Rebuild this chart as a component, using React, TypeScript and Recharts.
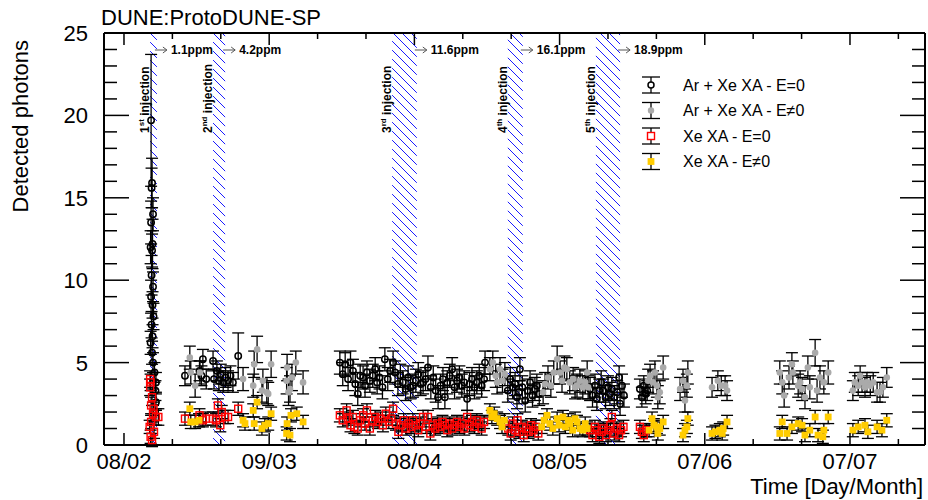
import React from 'react';
import { ScatterChart, Scatter, XAxis, YAxis, ErrorBar, ReferenceArea, Label } from 'recharts';

const FONT = "'Liberation Sans', Arial, Helvetica, sans-serif";

// x = days since 08/02, y = detected photons, e = error
const arXeField0: number[][] = [
  [5.6, 19.7, 4.0], [5.8, 15.9, 1.5], [5.7, 15.6, 1.2], [6.0, 14.0, 1.0], [5.6, 13.5, 1.3], [5.9, 12.2, 1.5],
  [5.5, 12.0, 1.0], [5.8, 11.8, 1.0], [5.7, 10.3, 1.2], [6.0, 9.6, 0.9], [5.6, 9.0, 1.0], [5.9, 8.5, 0.8],
  [6.1, 7.8, 0.8], [5.7, 7.3, 0.8], [5.9, 6.6, 0.7], [5.5, 6.2, 0.7], [5.8, 5.6, 0.7], [6.0, 5.0, 0.6],
  [6.3, 4.4, 0.6], [6.6, 3.8, 0.6], [6.5, 3.3, 0.6], [6.6, 2.6, 0.5],
  [12.6, 4.2, 0.6], [15.6, 4.5, 0.6], [16.3, 5.2, 0.6], [16.0, 4.2, 0.6], [17.0, 4.0, 0.6],
  [18.4, 5.1, 0.6], [18.6, 4.0, 0.6], [19.2, 4.5, 0.6], [19.6, 3.9, 0.6], [20.0, 4.3, 0.6], [20.5, 3.8, 0.6],
  [21.0, 4.1, 0.6], [21.5, 3.9, 0.6], [22.0, 4.2, 0.6], [22.5, 3.8, 0.6], [23.6, 5.4, 1.4],
  [44.6, 5.0, 0.7], [45.2, 4.3, 0.7], [45.7, 4.9, 0.7], [46.3, 4.0, 0.7], [46.8, 5.0, 0.7], [47.3, 4.5, 0.7],
  [47.8, 3.7, 0.7], [48.3, 3.1, 0.7], [48.8, 4.2, 0.7], [49.4, 4.1, 0.7], [49.8, 3.6, 0.7], [50.2, 4.4, 0.7],
  [50.8, 3.9, 0.7], [51.4, 4.2, 0.7], [51.9, 4.6, 0.7], [52.3, 3.8, 0.7], [52.8, 4.1, 0.7], [53.4, 3.5, 0.7],
  [53.9, 5.2, 0.7], [54.5, 4.0, 0.7], [55.0, 4.5, 0.7], [55.6, 5.0, 0.7], [56.0, 4.4, 0.7], [56.6, 3.7, 0.7],
  [57.1, 4.2, 0.7], [57.6, 3.8, 0.7], [58.2, 3.4, 0.7], [58.7, 4.1, 0.7], [59.2, 3.5, 0.7], [59.7, 3.6, 0.7],
  [60.3, 3.9, 0.7], [60.8, 4.3, 0.7], [61.3, 3.7, 0.7], [61.8, 3.8, 0.7], [62.3, 4.0, 0.7], [62.8, 4.7, 0.7],
  [63.4, 3.5, 0.7], [63.9, 4.1, 0.7], [64.4, 3.3, 0.7], [64.9, 2.9, 0.7], [65.4, 3.6, 0.7], [65.9, 4.0, 0.7],
  [66.3, 2.9, 0.7], [66.8, 3.8, 0.7], [67.3, 4.2, 0.7], [67.8, 4.6, 0.7], [68.3, 3.5, 0.7], [68.8, 3.9, 0.7],
  [69.3, 4.1, 0.7], [69.8, 3.6, 0.7], [70.3, 3.8, 0.7], [70.9, 2.8, 0.7], [71.4, 3.7, 0.7], [71.9, 4.0, 0.7],
  [72.4, 3.5, 0.7], [72.9, 3.8, 0.7], [73.4, 4.2, 0.7], [73.9, 3.6, 0.7], [74.4, 4.0, 0.7], [74.6, 5.0, 0.7],
  [79.3, 3.3, 0.7], [79.8, 4.0, 0.7], [80.3, 3.5, 0.7], [80.8, 3.7, 0.7], [81.2, 2.9, 0.7], [81.6, 3.2, 0.7],
  [81.8, 4.6, 0.7], [82.3, 3.5, 0.7], [82.9, 2.7, 0.7], [83.4, 3.3, 0.7], [83.9, 3.8, 0.7], [84.4, 3.0, 0.7],
  [84.9, 3.4, 0.7], [85.3, 3.6, 0.7], [85.8, 3.1, 0.7],
  [96.3, 3.4, 0.7], [96.8, 3.0, 0.7], [97.3, 3.6, 0.7], [97.7, 2.8, 0.7], [98.2, 3.3, 0.7], [98.6, 3.8, 0.7],
  [99.0, 3.3, 0.7], [99.5, 2.9, 0.7], [100.0, 3.5, 0.7], [100.4, 3.1, 0.7], [100.8, 3.4, 0.7], [101.3, 2.9, 0.7],
  [101.9, 3.2, 0.7], [102.3, 4.1, 0.7], [102.5, 2.5, 0.7], [102.9, 3.6, 0.7], [103.3, 3.0, 0.7],
  [106.6, 3.4, 0.6], [107.0, 2.9, 0.6], [107.4, 3.6, 0.6], [107.8, 3.1, 0.6], [108.1, 3.3, 0.6],
];

const arXeFieldOn: number[][] = [
  [13.6, 5.3, 0.7], [13.8, 4.4, 0.7], [14.7, 3.6, 0.7], [15.7, 4.4, 0.7],
  [24.6, 4.0, 0.7], [26.7, 3.6, 0.7], [26.9, 4.9, 0.8], [27.5, 5.8, 0.8], [28.5, 3.3, 0.7], [28.7, 3.9, 0.7],
  [29.5, 3.2, 0.7], [29.8, 3.1, 0.7], [30.4, 4.9, 0.8],
  [33.7, 4.7, 0.8], [33.6, 3.9, 0.8], [34.3, 3.4, 0.8], [34.0, 3.2, 0.8], [34.7, 4.1, 0.8], [35.5, 5.0, 0.7], [37.0, 3.8, 0.7],
  [75.6, 4.6, 0.7], [76.2, 5.0, 0.7], [76.8, 4.2, 0.7], [77.1, 3.8, 0.7], [77.7, 4.6, 0.7], [78.2, 3.9, 0.7], [78.7, 4.3, 0.7],
  [86.6, 3.2, 0.7], [87.0, 3.7, 0.7], [87.6, 4.1, 0.7], [88.2, 3.6, 0.7], [88.8, 4.4, 0.7], [89.5, 5.2, 0.8],
  [90.1, 4.4, 0.7], [90.5, 3.9, 0.7], [91.0, 4.7, 0.7], [91.5, 4.6, 0.7], [92.1, 3.8, 0.7], [92.8, 4.0, 0.7],
  [93.2, 3.5, 0.7], [93.6, 3.6, 0.7], [94.2, 3.9, 0.7], [94.8, 3.5, 0.7], [95.3, 3.8, 0.7], [95.7, 4.4, 0.7], [95.9, 3.5, 0.7],
  [108.3, 3.9, 0.7], [108.7, 4.2, 0.7], [109.3, 3.8, 0.7], [109.7, 4.4, 0.7], [110.1, 3.6, 0.7], [110.3, 2.9, 0.7],
  [110.7, 3.2, 0.7], [111.4, 4.7, 0.7],
  [114.9, 3.4, 0.7], [115.5, 3.9, 0.7], [115.9, 2.7, 0.7], [116.3, 3.6, 0.7], [116.5, 4.4, 0.7],
  [121.5, 3.5, 0.6], [122.7, 3.9, 0.6], [123.4, 3.6, 0.6], [124.2, 3.6, 0.6], [124.6, 3.3, 0.6],
  [135.5, 4.4, 0.7], [136.0, 3.8, 0.7], [136.4, 3.0, 0.7], [137.4, 4.1, 0.7], [138.0, 4.9, 0.7], [138.2, 4.4, 0.7],
  [139.3, 3.6, 0.7], [139.7, 3.8, 0.7], [140.1, 3.4, 0.7], [140.7, 2.9, 0.7], [141.3, 4.7, 0.7], [141.7, 3.5, 0.7],
  [142.8, 5.6, 0.8], [143.2, 3.3, 0.7], [143.8, 4.1, 0.7], [144.6, 3.8, 0.7], [145.5, 4.4, 0.7],
  [150.6, 3.3, 0.6], [151.0, 3.8, 0.6], [151.7, 3.6, 0.6], [152.1, 4.2, 0.6], [152.5, 3.8, 0.6], [153.1, 3.5, 0.6],
  [153.5, 3.8, 0.6], [154.2, 3.6, 0.6], [154.8, 3.8, 0.6], [155.6, 3.2, 0.6], [156.2, 3.2, 0.6], [156.8, 3.5, 0.6],
  [157.6, 4.1, 0.6],
];

const xeField0: number[][] = [
  [5.5, 3.8, 0.5], [5.4, 3.5, 0.5], [5.4, 4.0, 0.5], [5.8, 2.9, 0.5], [5.6, 2.4, 0.5], [6.1, 2.2, 0.4], [6.0, 1.9, 0.5],
  [6.6, 1.7, 0.5], [7.1, 1.7, 0.5], [5.6, 1.4, 0.4], [5.3, 1.1, 0.4], [6.2, 0.8, 0.4], [5.5, 0.5, 0.4], [5.8, 0.3, 0.4],
  [12.6, 1.6, 0.4], [15.6, 1.8, 0.4], [16.3, 1.5, 0.4], [16.9, 1.6, 0.4],
  [18.4, 1.6, 0.4], [19.0, 1.5, 0.4], [19.4, 2.4, 0.4], [20.2, 2.0, 0.4], [19.9, 1.2, 0.4], [20.9, 1.7, 0.4],
  [21.5, 1.7, 0.4], [23.6, 2.2, 0.4],
  [44.6, 1.8, 0.4], [45.2, 1.5, 0.4], [46.0, 2.1, 0.4], [46.3, 1.6, 0.4], [46.8, 1.2, 0.4], [47.3, 1.7, 0.4],
  [47.6, 1.1, 0.4], [48.3, 1.0, 0.4], [48.8, 1.5, 0.4], [49.4, 1.8, 0.4], [49.8, 1.3, 0.4], [50.2, 2.1, 0.4],
  [50.8, 1.0, 0.4], [51.4, 1.5, 0.4], [51.9, 1.7, 0.4], [52.5, 1.4, 0.4], [53.0, 1.6, 0.4], [53.5, 1.2, 0.4],
  [54.1, 1.9, 0.4], [54.7, 1.4, 0.4], [55.2, 1.6, 0.4], [55.6, 2.2, 0.4], [56.2, 1.3, 0.4], [56.7, 0.8, 0.4],
  [57.2, 1.2, 0.4], [57.8, 1.5, 0.4], [58.3, 1.0, 0.4], [58.8, 1.3, 0.4], [59.3, 1.1, 0.4], [59.7, 1.5, 0.4],
  [60.3, 1.2, 0.4], [60.8, 0.9, 0.4], [61.3, 1.3, 0.4], [61.8, 1.7, 0.4], [62.4, 1.1, 0.4], [62.8, 1.7, 0.4],
  [63.3, 0.7, 0.4], [63.8, 1.2, 0.4], [64.3, 1.0, 0.4], [64.8, 1.3, 0.4], [65.3, 1.1, 0.4], [65.8, 1.4, 0.4],
  [66.3, 1.2, 0.4], [66.8, 0.9, 0.4], [67.3, 1.3, 0.4], [67.8, 1.0, 0.4], [68.3, 1.2, 0.4], [68.8, 1.4, 0.4],
  [69.3, 1.1, 0.4], [69.8, 1.3, 0.4], [70.3, 1.0, 0.4], [70.9, 1.7, 0.4], [71.4, 1.2, 0.4], [71.9, 1.4, 0.4],
  [72.4, 1.1, 0.4], [72.9, 1.5, 0.4], [73.4, 1.3, 0.4], [73.9, 1.0, 0.4], [74.4, 1.4, 0.4],
  [79.4, 1.0, 0.4], [79.9, 0.7, 0.4], [80.3, 1.3, 0.4], [80.8, 0.9, 0.4], [81.3, 1.5, 0.4], [81.7, 0.8, 0.4],
  [82.2, 1.1, 0.4], [82.6, 0.6, 0.4], [83.1, 1.0, 0.4], [83.6, 0.8, 0.4], [84.1, 1.2, 0.4], [84.6, 0.9, 0.4],
  [85.1, 1.1, 0.4], [85.6, 0.7, 0.4],
  [96.3, 0.9, 0.4], [96.8, 0.6, 0.4], [97.3, 1.1, 0.4], [97.7, 0.9, 0.4], [98.2, 0.5, 0.4], [98.7, 0.8, 0.4],
  [99.1, 1.0, 0.4], [99.6, 0.6, 0.4], [100.1, 0.9, 0.4], [100.5, 1.2, 0.4], [100.8, 1.7, 0.4], [101.3, 0.7, 0.4],
  [101.8, 1.0, 0.4], [102.3, 0.6, 0.4], [102.7, 0.9, 0.4], [103.2, 1.1, 0.4],
  [106.6, 1.1, 0.4], [107.0, 0.8, 0.4], [107.4, 0.6, 0.4], [107.9, 0.9, 0.4],
];

const xeFieldOn: number[][] = [
  [13.6, 2.2, 0.4], [13.8, 1.4, 0.4], [14.7, 1.4, 0.4], [15.5, 1.5, 0.4],
  [24.6, 1.5, 0.4], [25.0, 1.3, 0.4], [26.7, 2.1, 0.4], [27.5, 2.6, 0.4], [26.9, 1.3, 0.4], [28.5, 1.0, 0.4],
  [29.1, 1.2, 0.4], [29.8, 1.3, 0.4], [30.4, 1.9, 0.4],
  [33.7, 1.3, 0.4], [33.6, 0.7, 0.4], [34.3, 0.6, 0.4], [34.5, 1.8, 0.4], [35.7, 1.9, 0.4], [37.0, 1.4, 0.4],
  [75.6, 2.1, 0.4], [76.0, 1.7, 0.4], [76.5, 1.9, 0.4], [77.1, 1.6, 0.4], [77.7, 1.4, 0.4], [78.1, 1.1, 0.4], [78.6, 1.5, 0.4],
  [86.3, 1.1, 0.4], [86.8, 1.5, 0.4], [87.4, 1.8, 0.4], [88.0, 1.3, 0.4], [88.6, 1.0, 0.4], [89.5, 1.6, 0.4],
  [89.9, 1.2, 0.4], [90.7, 1.7, 0.4], [91.2, 1.1, 0.4], [91.8, 1.5, 0.4], [92.1, 1.3, 0.4], [92.7, 0.9, 0.4],
  [93.2, 1.6, 0.4], [93.6, 1.4, 0.4], [94.2, 1.0, 0.4], [94.8, 0.9, 0.4], [95.3, 1.3, 0.4], [95.7, 1.0, 0.4],
  [108.5, 0.9, 0.4], [109.1, 1.6, 0.4], [109.5, 1.2, 0.4], [110.1, 1.1, 0.4], [110.3, 0.7, 0.4], [110.7, 1.0, 0.4], [111.4, 1.4, 0.4],
  [115.5, 0.6, 0.4], [115.9, 0.9, 0.4], [116.3, 1.1, 0.4], [116.5, 1.6, 0.4],
  [121.5, 0.7, 0.4], [122.2, 0.8, 0.4], [123.1, 0.9, 0.4], [123.6, 0.7, 0.4], [123.8, 1.0, 0.4], [124.6, 1.4, 0.4],
  [135.5, 0.7, 0.4], [136.0, 1.4, 0.4], [137.0, 0.7, 0.4], [138.0, 1.1, 0.4], [139.3, 1.3, 0.4], [140.1, 1.2, 0.4],
  [140.7, 0.6, 0.4], [141.7, 0.9, 0.4], [142.8, 1.7, 0.4], [143.4, 0.6, 0.4], [144.4, 0.5, 0.4], [144.6, 0.9, 0.4], [145.5, 1.7, 0.4],
  [150.6, 0.9, 0.4], [151.7, 1.1, 0.4], [153.1, 1.2, 0.4], [153.7, 0.8, 0.4], [155.6, 1.1, 0.4], [156.6, 0.9, 0.4], [157.6, 1.5, 0.4],
];

// injection periods (days since 08/02)
const injStart = [5.4, 18.4, 55.4, 79.3, 97.5];
const injEnd = [6.8, 20.9, 60.5, 82.4, 102.5];
const injOrdinal = ['1', '2', '3', '4', '5'];
const injSuffix = ['st', 'nd', 'rd', 'th', 'th'];
const injConc = ['1.1ppm', '4.2ppm', '11.6ppm', '16.1ppm', '18.9ppm'];

const xTicks = [0, 10, 20, 30, 40, 50, 60, 70, 80, 90, 100, 110, 120, 130, 140, 150, 160];
const xTickLabels: Record<number, string> = { 0: '08/02', 30: '09/03', 60: '08/04', 90: '08/05', 120: '07/06', 150: '07/07' };
const yTicks = Array.from({ length: 26 }, (_, i) => i);

const seriesNames = ['Ar + Xe XA - E=0', 'Ar + Xe XA - E\u22600', 'Xe XA - E=0', 'Xe XA - E\u22600'];

const toPts = (a: number[][]) => a.map(([x, y, e]) => ({ x, y, err: e }));

const OpenCircle = (p: any) => <circle cx={p.cx} cy={p.cy} r={3.2} fill="none" stroke="#000" strokeWidth={1.5} />;
const GrayDot = (p: any) => <circle cx={p.cx} cy={p.cy} r={3.3} fill="#aaaaaa" />;
const RedSquare = (p: any) => <rect x={p.cx - 3.5} y={p.cy - 3.5} width={7} height={7} fill="none" stroke="#ff0000" strokeWidth={1.4} />;
const YellowSquare = (p: any) => <rect x={p.cx - 3.4} y={p.cy - 3.4} width={6.8} height={6.8} fill="#ffcc00" />;

const isMajor = (v: number, step: number) => Math.abs(v / step - Math.round(v / step)) < 1e-6;

const BottomTick = (p: any) => {
  const v = p.payload.value;
  const major = isMajor(v, 30);
  return (
    <g>
      <line x1={p.x} y1={p.y} x2={p.x} y2={p.y - (major ? 12 : 6)} stroke="#000" strokeWidth={1.5} />
      {major && (
        <text x={p.x} y={p.y + 24} textAnchor="middle" fontSize={22} fontFamily={FONT} fill="#000">{xTickLabels[v]}</text>
      )}
    </g>
  );
};
const TopTick = (p: any) => {
  const major = isMajor(p.payload.value, 30);
  return <line x1={p.x} y1={p.y} x2={p.x} y2={p.y + (major ? 12 : 6)} stroke="#000" strokeWidth={1.5} />;
};
const LeftTick = (p: any) => {
  const v = p.payload.value;
  const major = isMajor(v, 5);
  return (
    <g>
      <line x1={p.x} y1={p.y} x2={p.x + (major ? 25 : 13)} y2={p.y} stroke="#000" strokeWidth={1.5} />
      {major && (
        <text x={p.x - 16} y={p.y + 8} textAnchor="end" fontSize={22} fontFamily={FONT} fill="#000">{v}</text>
      )}
    </g>
  );
};
const RightTick = (p: any) => {
  const major = isMajor(p.payload.value, 5);
  return <line x1={p.x} y1={p.y} x2={p.x - (major ? 25 : 13)} y2={p.y} stroke="#000" strokeWidth={1.5} />;
};

const makeBandLabel = (i: number) => (props: any) => {
  const vb = props.viewBox || {};
  const x = vb.x ?? 0;
  const y = vb.y ?? 0;
  const right = x + (vb.width ?? 0);
  const ay = y + 17;
  return (
    <g>
      <line x1={right - 2} y1={ay} x2={right + 10} y2={ay} stroke="#555" strokeWidth={1} />
      <path d={`M${right + 6},${ay - 3} L${right + 10},${ay} L${right + 6},${ay + 3}`} fill="none" stroke="#555" strokeWidth={1} />
      <text x={right + 14} y={y + 21} fontSize={12} fontWeight="bold" fontFamily={FONT} fill="#000">{injConc[i]}</text>
      <text transform={`translate(${x - 1},${y + 100}) rotate(-90)`} fontSize={12} fontWeight="bold" fontFamily={FONT} fill="#000">
        {injOrdinal[i]}
        <tspan dy={-5} fontSize={8}>{injSuffix[i]}</tspan>
        <tspan dy={5}>{' injection'}</tspan>
      </text>
    </g>
  );
};

const legendRows = [85, 110.5, 136, 161.5];

export default function App() {
  return (
    <div style={{ position: 'absolute', left: 0, top: 0, width: 928, height: 500, background: '#fff' }}>
      <svg width={0} height={0} style={{ position: 'absolute' }}>
        <defs>
          <pattern id="hatch" patternUnits="userSpaceOnUse" width={9} height={9}>
            <path d="M-2,-2 L11,11 M-2,7 L2,11 M7,-2 L11,2" stroke="#0000ff" strokeWidth={0.9} />
          </pattern>
        </defs>
      </svg>
      <ScatterChart width={928} height={500} margin={{ top: 0, right: 0, bottom: 0, left: 0 }}>
        <XAxis
          type="number"
          dataKey="x"
          domain={[-4.13, 165.5]}
          allowDataOverflow
          ticks={xTicks}
          interval={0}
          height={55}
          tickSize={0}
          tickMargin={0}
          tick={BottomTick}
          tickLine={false}
          axisLine={{ stroke: '#000', strokeWidth: 2 }}
        />
        <XAxis
          xAxisId="top"
          orientation="top"
          type="number"
          dataKey="x"
          domain={[-4.13, 165.5]}
          allowDataOverflow
          ticks={xTicks}
          interval={0}
          height={33}
          tickSize={0}
          tickMargin={0}
          tick={TopTick}
          tickLine={false}
          axisLine={{ stroke: '#000', strokeWidth: 2 }}
        />
        <YAxis
          type="number"
          dataKey="y"
          domain={[0, 25]}
          allowDataOverflow
          ticks={yTicks}
          interval={0}
          width={104}
          tickSize={0}
          tickMargin={0}
          tick={LeftTick}
          tickLine={false}
          axisLine={{ stroke: '#000', strokeWidth: 2 }}
        />
        <YAxis
          yAxisId="right"
          orientation="right"
          type="number"
          dataKey="y"
          domain={[0, 25]}
          allowDataOverflow
          ticks={yTicks}
          interval={0}
          width={3}
          tickSize={0}
          tickMargin={0}
          tick={RightTick}
          tickLine={false}
          axisLine={{ stroke: '#000', strokeWidth: 2 }}
        />
        {injStart.map((s, i) => (
          <ReferenceArea key={i} x1={s} x2={injEnd[i]} y1={0} y2={25} fill="url(#hatch)" fillOpacity={1} stroke="none" ifOverflow="visible">
            <Label content={makeBandLabel(i)} />
          </ReferenceArea>
        ))}
        <Scatter name={seriesNames[0]} data={toPts(arXeField0)} shape={OpenCircle} isAnimationActive={false}>
          <ErrorBar dataKey="err" direction="y" width={6} stroke="#000" strokeWidth={1.3} isAnimationActive={false} />
        </Scatter>
        <Scatter name={seriesNames[1]} data={toPts(arXeFieldOn)} shape={GrayDot} isAnimationActive={false}>
          <ErrorBar dataKey="err" direction="y" width={6} stroke="#000" strokeWidth={1.3} isAnimationActive={false} />
        </Scatter>
        <Scatter name={seriesNames[2]} data={toPts(xeField0)} shape={RedSquare} isAnimationActive={false}>
          <ErrorBar dataKey="err" direction="y" width={6} stroke="#000" strokeWidth={1.3} isAnimationActive={false} />
        </Scatter>
        <Scatter name={seriesNames[3]} data={toPts(xeFieldOn)} shape={YellowSquare} isAnimationActive={false}>
          <ErrorBar dataKey="err" direction="y" width={6} stroke="#000" strokeWidth={1.3} isAnimationActive={false} />
        </Scatter>
      </ScatterChart>
      <svg width={928} height={500} style={{ position: 'absolute', left: 0, top: 0, pointerEvents: 'none' }} fontFamily={FONT}>
        <text x={101} y={25} fontSize={22} fill="#000">DUNE:ProtoDUNE-SP</text>
        <text transform="translate(28,40) rotate(-90)" textAnchor="end" fontSize={22} fill="#000">Detected photons</text>
        <text x={923} y={494} textAnchor="end" fontSize={22} fill="#000">Time [Day/Month]</text>
        {legendRows.map((ry, i) => (
          <g key={i}>
            <line x1={651} y1={ry - 8} x2={651} y2={ry + 8} stroke="#000" strokeWidth={1.3} />
            <line x1={642} y1={ry - 8} x2={660} y2={ry - 8} stroke="#000" strokeWidth={1.3} />
            <line x1={642} y1={ry + 8} x2={660} y2={ry + 8} stroke="#000" strokeWidth={1.3} />
            {i === 0 && <circle cx={651} cy={ry} r={3} fill="#fff" stroke="#000" strokeWidth={1.5} />}
            {i === 1 && <circle cx={651} cy={ry} r={3.2} fill="#aaaaaa" />}
            {i === 2 && <rect x={647.5} y={ry - 3.5} width={7} height={7} fill="#fff" stroke="#ff0000" strokeWidth={1.4} />}
            {i === 3 && <rect x={647.6} y={ry - 3.4} width={6.8} height={6.8} fill="#ffcc00" />}
            <text x={683} y={ry + 5.7} fontSize={16} fill="#000">{seriesNames[i]}</text>
          </g>
        ))}
      </svg>
    </div>
  );
}
